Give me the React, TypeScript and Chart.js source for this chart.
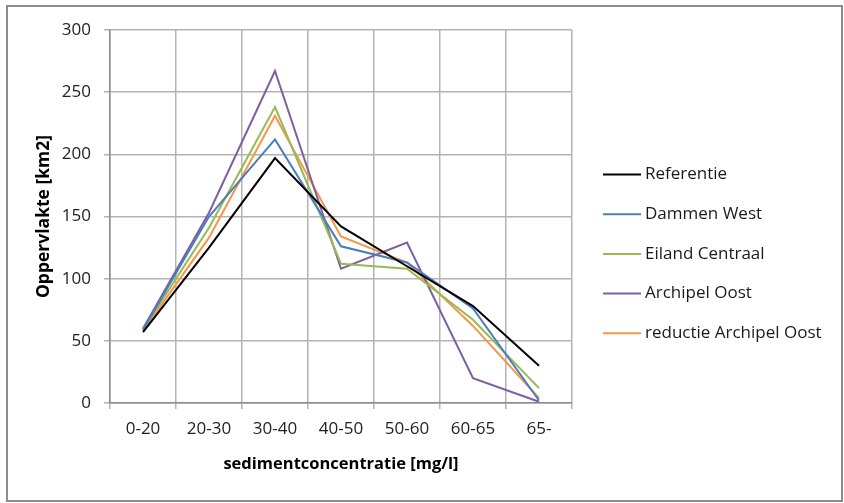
import React, { useEffect, useRef } from "react";
import { Chart, registerables } from "chart.js";

Chart.register(...registerables);

// Concentration classes and the surface area per class for each scenario
const categories = ["0-20", "20-30", "30-40", "40-50", "50-60", "60-65", "65-"];
const referentie = [57, 125, 197, 142, 110, 78, 30];
const dammenWest = [59, 150, 212, 126, 113, 76, 2];
const eilandCentraal = [59, 141, 238, 112, 108, 67, 12];
const archipelOost = [60, 153, 267, 108, 129, 20, 1];
const reductieArchipelOost = [58, 133, 231, 134, 113, 62, 4];

const seriesNames = [
  "Referentie",
  "Dammen West",
  "Eiland Centraal",
  "Archipel Oost",
  "reductie Archipel Oost",
];
const seriesColors = ["#000000", "#4A7EBB", "#98B954", "#7D60A0", "#F79646"];

const yMin = 0;
const yMax = 300;
const yStep = 50;

const FONT = "'Open Sans', 'Liberation Sans', sans-serif";

// Outer frame around the whole chart
const framePlugin = {
  id: "frame",
  beforeDraw(chart: any) {
    const { ctx, width, height } = chart;
    ctx.save();
    ctx.fillStyle = "#ffffff";
    ctx.fillRect(0, 0, width, height);
    ctx.strokeStyle = "#8c8c8c";
    ctx.lineWidth = 2;
    ctx.strokeRect(7, 6, 835, 495);
    ctx.restore();
  },
};

// Legend to the right of the plot: short line sample followed by the name
const sideLegendPlugin = {
  id: "sideLegend",
  afterDraw(chart: any) {
    const { ctx } = chart;
    ctx.save();
    ctx.font = `17px ${FONT}`;
    ctx.textBaseline = "middle";
    ctx.textAlign = "left";
    chart.data.datasets.forEach((ds: any, i: number) => {
      const y = 174.5 + i * 39.7;
      ctx.strokeStyle = ds.borderColor;
      ctx.lineWidth = 2;
      ctx.beginPath();
      ctx.moveTo(603, y);
      ctx.lineTo(641, y);
      ctx.stroke();
      ctx.fillStyle = "#1a1a1a";
      ctx.fillText(ds.label, 645, y);
    });
    ctx.restore();
  },
};

export default function App() {
  const canvasRef = useRef<HTMLCanvasElement | null>(null);

  useEffect(() => {
    if (!canvasRef.current) return;
    const seriesData = [
      referentie,
      dammenWest,
      eilandCentraal,
      archipelOost,
      reductieArchipelOost,
    ];
    const chart = new Chart(canvasRef.current, {
      type: "line",
      data: {
        labels: categories,
        datasets: seriesData.map((d, i) => ({
          label: seriesNames[i],
          data: d,
          borderColor: seriesColors[i],
          backgroundColor: seriesColors[i],
          borderWidth: 2,
          pointRadius: 0,
          tension: 0,
          fill: false,
        })),
      },
      options: {
        animation: false,
        responsive: false,
        devicePixelRatio: 1,
        layout: { padding: { left: 0, top: 30, right: 272, bottom: 0 } },
        plugins: {
          legend: { display: false },
          tooltip: { enabled: false },
        },
        scales: {
          x: {
            type: "category",
            offset: true,
            grid: {
              offset: true,
              color: "#b3b3b3",
              lineWidth: 1.5,
              tickLength: 6,
              drawTicks: true,
            },
            border: { color: "#8c8c8c", width: 1.5 },
            ticks: {
              color: "#222",
              font: { family: FONT, size: 17 },
              padding: 10,
              maxRotation: 0,
              autoSkip: false,
            },
            title: {
              display: true,
              text: "sedimentconcentratie [mg/l]",
              color: "#000",
              font: { family: FONT, size: 16.5, weight: "bold" },
              padding: { top: 0, bottom: 29 },
            },
            afterFit(scale: any) {
              scale.height = 100;
            },
          },
          y: {
            min: yMin,
            max: yMax,
            grid: {
              color: "#b3b3b3",
              lineWidth: 1.5,
              tickLength: 6,
              drawTicks: true,
            },
            border: { color: "#8c8c8c", width: 1.5 },
            ticks: {
              stepSize: yStep,
              color: "#222",
              font: { family: FONT, size: 17 },
              padding: 13,
            },
            title: {
              display: true,
              text: "Oppervlakte [km2]",
              color: "#000",
              font: { family: FONT, size: 17.5, weight: "bold" },
              padding: { top: 34, bottom: 0 },
            },
            afterFit(scale: any) {
              scale.width = 110;
            },
          },
        },
      },
      plugins: [framePlugin, sideLegendPlugin],
    } as any);
    return () => chart.destroy();
  }, []);

  return (
    <div style={{ position: "fixed", left: 0, top: 0, width: 844, height: 503 }}>
      <canvas ref={canvasRef} width={844} height={503} />
    </div>
  );
}
